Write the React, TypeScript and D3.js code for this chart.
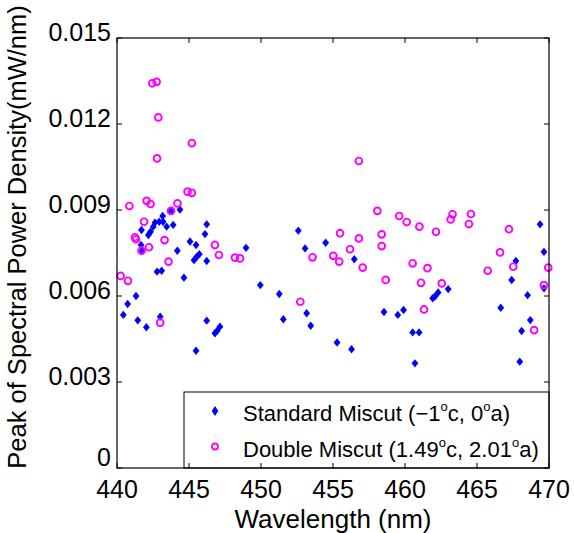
import React from "react";
import * as d3 from "d3";

// Standard Miscut (-1°c, 0°a)
const standardWavelength = [
  440.44, 440.74, 441.32, 441.44, 442.04, 443.0, 441.67, 441.7, 441.75, 442.18,
  442.33, 442.52, 442.64, 442.93, 443.17, 443.2, 443.45, 443.75, 443.9, 444.37,
  444.19, 442.78, 443.1, 444.65, 445.07, 445.49, 446.11, 446.23, 445.35, 445.54,
  445.72, 446.23, 448.96, 449.95, 446.23, 446.8, 446.96, 447.15, 445.49, 451.27,
  451.55, 452.59, 453.06, 453.17, 453.45, 454.49, 455.28, 456.29, 456.48, 458.54,
  459.5, 459.9, 460.53, 460.98, 460.69, 461.92, 462.08, 462.3, 463.0, 466.65,
  467.41, 467.7, 467.97, 468.1, 468.51, 468.7, 469.38, 469.65, 469.65,
];
const standardPeak = [
  0.00534, 0.00572, 0.006, 0.00515, 0.00491, 0.00528, 0.00778, 0.0083, 0.00758, 0.00813,
  0.00824, 0.00842, 0.00856, 0.00859, 0.00879, 0.00859, 0.00842, 0.00897, 0.00848, 0.00902,
  0.00758, 0.00685, 0.00688, 0.00664, 0.0079, 0.00778, 0.00816, 0.0085, 0.00725, 0.00737,
  0.00746, 0.00722, 0.00768, 0.00638, 0.00514, 0.0047, 0.00479, 0.00493, 0.00409, 0.00607,
  0.00519, 0.00828, 0.00766, 0.0054, 0.00496, 0.00786, 0.00438, 0.00414, 0.00728, 0.00544,
  0.00534, 0.00551, 0.00473, 0.00473, 0.00365, 0.00592, 0.00598, 0.00612, 0.00624, 0.00559,
  0.00656, 0.00722, 0.00371, 0.00478, 0.00603, 0.00516, 0.0085, 0.00754, 0.00627,
];

// Double Miscut (1.49°c, 2.01°a)
const doubleWavelength = [
  440.25, 440.76, 440.86, 441.25, 441.32, 441.7, 441.88, 442.06, 442.33, 442.22,
  442.45, 442.75, 442.87, 442.78, 443.0, 443.3, 443.58, 443.75, 444.2, 444.9,
  445.2, 445.2, 446.8, 447.08, 448.19, 448.54, 452.73, 453.58, 455.02, 455.43,
  455.49, 456.18, 456.8, 456.8, 457.06, 458.08, 458.38, 458.38, 458.66, 459.6,
  460.12, 460.53, 461.0, 461.11, 461.32, 461.56, 462.15, 462.55, 463.17, 463.3,
  464.44, 464.58, 465.74, 466.6, 467.22, 467.52, 468.97, 469.65, 469.95,
];
const doublePeak = [
  0.0067, 0.00653, 0.00914, 0.00805, 0.00798, 0.00758, 0.00859, 0.00932, 0.00921, 0.0077,
  0.01342, 0.01347, 0.01223, 0.0108, 0.00507, 0.00795, 0.0072, 0.00897, 0.00923, 0.00964,
  0.0096, 0.01133, 0.00778, 0.00743, 0.00734, 0.00731, 0.0058, 0.00735, 0.0074, 0.0072,
  0.00819, 0.00763, 0.01071, 0.00801, 0.00699, 0.00897, 0.00815, 0.00774, 0.00656, 0.00879,
  0.00858, 0.00714, 0.00842, 0.00646, 0.00553, 0.00697, 0.00824, 0.00644, 0.00867, 0.00885,
  0.00851, 0.00886, 0.00688, 0.00752, 0.00833, 0.00702, 0.00481, 0.00638, 0.00699,
];

const xTicks = [440, 445, 450, 455, 460, 465, 470];
const yTicks = [0, 0.003, 0.006, 0.009, 0.012, 0.015];
const yTickLabels = ["0", "0.003", "0.006", "0.009", "0.012", "0.015"];

const W = 574;
const H = 533;
const FONT = "'Liberation Sans', Arial, Helvetica, sans-serif";
const BLUE = "#0000ff";
const MAGENTA = "#ff00ff";

const diamond = (cx: number, cy: number, hw = 3.4, hh = 4.2) =>
  `M${cx},${cy - hh}L${cx + hw},${cy}L${cx},${cy + hh}L${cx - hw},${cy}Z`;

// superscript degree, MATLAB ^o style
const Deg = () => (
  <tspan fontSize={13} dy={-10}>
    o
  </tspan>
);

export default function App() {
  const margin = { left: 117, right: W - 549, top: 38, bottom: H - 468 };
  const x = d3.scaleLinear().domain([440, 470]).range([margin.left, W - margin.right]);
  const y = d3.scaleLinear().domain([0, 0.015]).range([H - margin.bottom, margin.top]);
  const [x0, x1] = x.range();
  const [y0, y1] = y.range();
  const tl = 5;

  const legend = { x: 184, y: 392, w: x1 - 184, h: y0 - 392 };

  return (
    <svg
      width={W}
      height={H}
      style={{ position: "absolute", left: 0, top: 0, background: "#fff" }}
      fontFamily={FONT}
    >
      <rect width={W} height={H} fill="#fff" />

      {/* standard miscut */}
      {standardWavelength.map((w, i) => (
        <path key={"s" + i} d={diamond(x(w), y(standardPeak[i]))} fill={BLUE} />
      ))}

      {/* double miscut */}
      {doubleWavelength.map((w, i) => (
        <circle
          key={"d" + i}
          cx={x(w)}
          cy={y(doublePeak[i])}
          r={3.4}
          fill="none"
          stroke={MAGENTA}
          strokeWidth={1.9}
        />
      ))}

      {/* legend */}
      <rect
        x={legend.x}
        y={legend.y}
        width={legend.w}
        height={legend.h}
        fill="#fff"
        stroke="#000"
        strokeWidth={1}
      />
      <path d={diamond(215, 411, 3.3, 5)} fill={BLUE} />
      <text x={243} y={421} fontSize={22} fill="#000">
        Standard Miscut (−1<Deg />
        <tspan dy={10}>c, 0</tspan>
        <Deg />
        <tspan dy={10}>a)</tspan>
      </text>
      <circle cx={215} cy={446.5} r={3} fill="none" stroke={MAGENTA} strokeWidth={1.8} />
      <text x={243} y={457} fontSize={22} fill="#000">
        Double Miscut (1.49<Deg />
        <tspan dy={10}>c, 2.01</tspan>
        <Deg />
        <tspan dy={10}>a)</tspan>
      </text>

      {/* axes box */}
      <rect x={x0} y={y1} width={x1 - x0} height={y0 - y1} fill="none" stroke="#000" strokeWidth={1.2} />

      {xTicks.map((t) => (
        <g key={"xt" + t}>
          <line x1={x(t)} x2={x(t)} y1={y0} y2={y0 - tl} stroke="#000" />
          <line x1={x(t)} x2={x(t)} y1={y1} y2={y1 + tl} stroke="#000" />
          <text x={x(t)} y={498} fontSize={25} textAnchor="middle" fill="#000">
            {t}
          </text>
        </g>
      ))}

      {yTicks.map((t, i) => (
        <g key={"yt" + t}>
          <line x1={x0} x2={x0 + tl} y1={y(t)} y2={y(t)} stroke="#000" />
          <line x1={x1} x2={x1 - tl} y1={y(t)} y2={y(t)} stroke="#000" />
          <text
            x={111}
            y={t === 0 ? y(t) - 2 : y(t) + 3}
            fontSize={25}
            textAnchor="end"
            fill="#000"
          >
            {yTickLabels[i]}
          </text>
        </g>
      ))}

      <text x={(x0 + x1) / 2} y={528} fontSize={26} textAnchor="middle" fill="#000">
        Wavelength (nm)
      </text>
      <text
        transform={`translate(26,${(y0 + y1) / 2 - 16}) rotate(-90)`}
        fontSize={25.5}
        textAnchor="middle"
        fill="#000"
      >
        Peak of Spectral Power Density(mW/nm)
      </text>
    </svg>
  );
}
